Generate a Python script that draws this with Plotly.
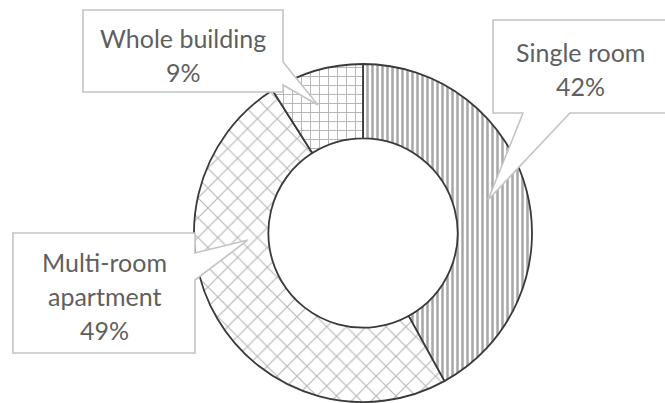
import plotly.graph_objects as go

# dados
categorias = ['Single room', 'Multi-room\napartment', 'Whole building']
percentuais = [42, 49, 9]
padroes = ['|', 'x', '+']

W, H = 665, 403


def px(x, y):
    # pixel -> paper
    return x / W, 1 - y / H


def caminho(pontos):
    s = ''
    for i, (x, y) in enumerate(pontos):
        a, b = px(x, y)
        s += ('M' if i == 0 else 'L') + f'{a:.4f},{b:.4f} '
    return s + 'Z'


# centro e raio do donut em pixels
cx, cy, r = 363, 233, 169
x0, y0 = px(cx - r, cy + r)
x1, y1 = px(cx + r, cy - r)

fig = go.Figure(go.Pie(
    labels=[c.replace('\n', ' ') for c in categorias],
    values=percentuais,
    hole=0.56,
    sort=False,
    direction='clockwise',
    rotation=0,
    textinfo='none',
    hoverinfo='label+percent',
    domain=dict(x=[x0, x1], y=[y0, y1]),
    marker=dict(
        colors=['white'] * 3,
        line=dict(color='#3a3a3a', width=1.8),
        pattern=dict(shape=padroes, fgcolor=['#505050', '#6e6e6e', '#666666'],
                     bgcolor=['white'] * 3, size=[5, 14, 9],
                     solidity=[0.5, 0.16, 0.2], fillmode='overlay'),
    ),
    showlegend=False,
))

# caixas de legenda (callouts)
caixas = [
    [(493, 20), (680, 20), (680, 113), (570, 113), (488, 200), (523, 113), (493, 113)],
    [(13, 233), (195, 233), (195, 253), (248, 240), (195, 280), (195, 353), (13, 353)],
    [(83, 10), (283, 10), (283, 62), (318, 105), (283, 85), (283, 92), (83, 92)],
]
centros_texto = [(580, 52), (104, 262), (183, 38)]

shapes = []
for pts in caixas:
    shapes.append(dict(type='path', path=caminho(pts), xref='paper', yref='paper',
                       fillcolor='white', line=dict(color='#c4c4c4', width=1.6),
                       layer='above'))

anots = []
for cat, p, (tx, ty) in zip(categorias, percentuais, centros_texto):
    linhas = cat.split('\n') + [f'{p}%']
    for i, linha in enumerate(linhas):
        a, b = px(tx, ty + i * 34)
        anots.append(dict(x=a, y=b, xref='paper', yref='paper', text=linha,
                          showarrow=False, xanchor='center', yanchor='middle',
                          font=dict(family='Lato', size=25, color='#5f5f5f')))

fig.update_layout(
    width=W, height=H,
    margin=dict(l=0, r=0, t=0, b=0),
    paper_bgcolor='white', plot_bgcolor='white',
    shapes=shapes, annotations=anots,
)

# tira a margem padrao do body
fig.write_html('out.html', config={'displayModeBar': False},
               post_script="document.body.style.margin='0';")
